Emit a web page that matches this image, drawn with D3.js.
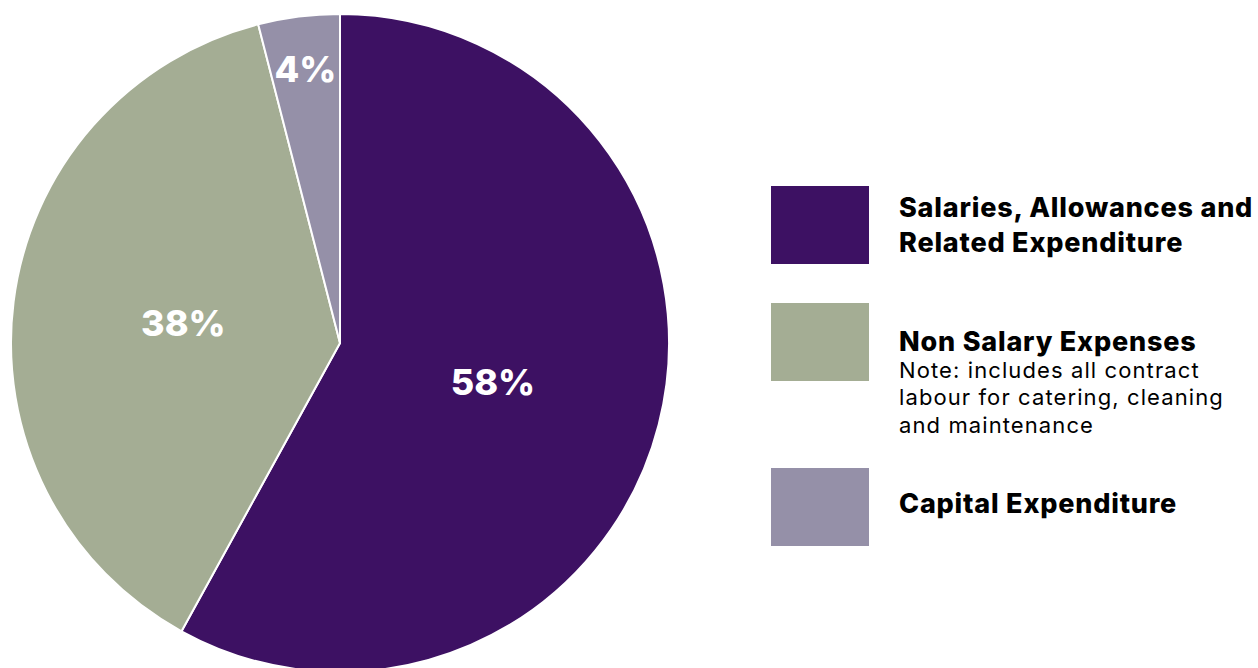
<!DOCTYPE html>
<html>
<head>
<meta charset="utf-8">
<style>
  body { margin: 0; background: #fff; }
  svg { display: block; font-family: 'Inter', 'Open Sans', sans-serif; }
  .lab { fill: #fff; font-weight: 800; font-size: 36px; }
  .leg { fill: #000; font-weight: 800; font-size: 27px; letter-spacing: 0.8px; }
  .note { fill: #000; font-weight: 400; font-size: 22px; letter-spacing: 1.1px; }
</style>
</head>
<body>
<svg width="1258" height="668"></svg>
<script src="https://d3js.org/d3.v7.min.js"></script>
<script>
  // data
  let categories = ["Salaries, Allowances and Related Expenditure", "Non Salary Expenses", "Capital Expenditure"]
  let shares = [58, 38, 4]
  let colors = ["#3d1163", "#a4ad94", "#9590a8"]
  let legendLines = [
    ["Salaries, Allowances and", "Related Expenditure"],
    ["Non Salary Expenses"],
    ["Capital Expenditure"]
  ]
  let noteLines = [[], ["Note: includes all contract", "labour for catering, cleaning", "and maintenance"], []]

  let svg = d3.select("svg")
  let cx = 340, cy = 343, r = 329

  let pie = d3.pie().sort(null).value(d => d)
  let arcs = pie(shares)
  let arc = d3.arc().innerRadius(0).outerRadius(r)

  let g = svg.append("g").attr("transform", `translate(${cx},${cy})`)

  g.selectAll("path")
    .data(arcs)
    .join("path")
    .attr("d", arc)
    .attr("fill", (d, i) => colors[i])
    .attr("stroke", "#fff")
    .attr("stroke-width", 2)

  // small slices get their label nearer the rim
  let labelArc = d => {
    let k = (d.endAngle - d.startAngle) < 0.5 ? 0.84 : 0.48
    return d3.arc().innerRadius(r * k).outerRadius(r * k).centroid(d)
  }

  g.selectAll("text")
    .data(arcs)
    .join("text")
    .attr("class", "lab")
    .attr("transform", d => `translate(${labelArc(d)})`)
    .attr("text-anchor", "middle")
    .attr("dy", "0.36em")
    .text(d => d.data + "%")

  // legend: entries stack down, the one with a note takes more room
  let legY = []
  let y = 186
  categories.forEach((c, i) => {
    legY.push(y)
    y += 117 + (noteLines[i].length ? 48 : 0)
  })

  let legend = svg.append("g")
    .selectAll("g")
    .data(categories)
    .join("g")
    .attr("transform", (d, i) => `translate(771,${legY[i]})`)

  legend.append("rect")
    .attr("width", 98)
    .attr("height", 78)
    .attr("fill", (d, i) => colors[i])

  legend.each(function (d, i) {
    let el = d3.select(this)
    let lines = legendLines[i]
    let notes = noteLines[i]
    let first = lines.length === 2 ? 31 : (notes.length ? 48 : 45)
    lines.forEach((t, j) => {
      el.append("text").attr("class", "leg")
        .attr("x", 128).attr("y", first + j * 35)
        .text(t)
    })
    notes.forEach((t, j) => {
      el.append("text").attr("class", "note")
        .attr("x", 128).attr("y", first + 26.5 + j * 27.7)
        .text(t)
    })
  })
</script>
</body>
</html>
